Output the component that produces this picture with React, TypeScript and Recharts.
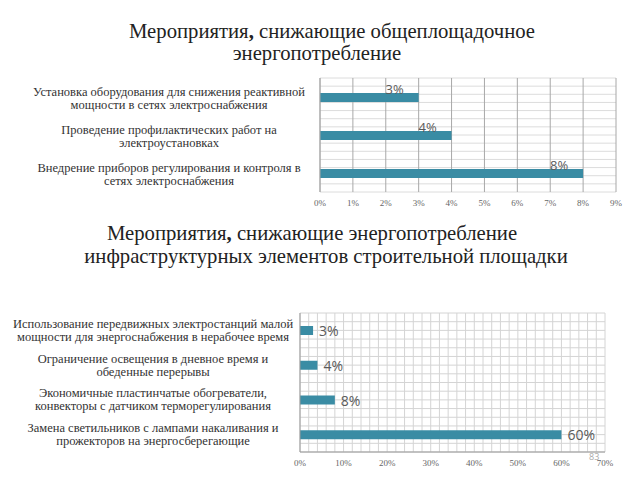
import React from "react";
import { BarChart, Bar, XAxis, YAxis, CartesianGrid, LabelList } from "recharts";

const siteCategories = [
  "Установка оборудования для снижения реактивной\nмощности в сетях электроснабжения",
  "Проведение профилактических работ на\nэлектроустановках",
  "Внедрение приборов регулирования и контроля в\nсетях электроснабжения",
];
const siteValues = [3, 4, 8];
const siteTicks = [0, 1, 2, 3, 4, 5, 6, 7, 8, 9];

const infraCategories = [
  "Использование передвижных электростанций малой\nмощности для энергоснабжения в нерабочее время",
  "Ограничение освещения в дневное время и\nобеденные перерывы",
  "Экономичные пластинчатые обогреватели,\nконвекторы с датчиком терморегулирования",
  "Замена светильников с лампами накаливания и\nпрожекторов на энергосберегающие",
];
const infraValues = [3, 4, 8, 60];
const infraTicks = [0, 10, 20, 30, 40, 50, 60, 70];

const siteData = siteCategories.map((name, i) => ({ name, value: siteValues[i] }));
const infraData = infraCategories.map((name, i) => ({ name, value: infraValues[i] }));

const BAR = "#3a8ca4";
const SERIF = "Liberation Serif, DejaVu Serif, serif";
const SANS = "Open Sans, DejaVu Sans, sans-serif";

function CategoryTick(props: any) {
  const { x, y, payload, shift, top, gap } = props;
  const lines = String(payload.value).split("\n");
  const cx = x - shift;
  return (
    <text x={cx} y={y} textAnchor="middle" fontFamily={SERIF} fontSize={12.5} fill="#333">
      {lines.map((l, i) => (
        <tspan key={i} x={cx} y={y + top + i * gap}>
          {l}
        </tspan>
      ))}
    </text>
  );
}

const pct = (v: number) => `${v}%`;

function TopLabel(props: any) {
  const { x, y, width, value } = props;
  return (
    <text x={x + width - 24} y={y + 1} textAnchor="middle" fontFamily={SANS} fontSize={13} fill="#5a5a5a">
      {pct(value)}
    </text>
  );
}

function SideLabel(props: any) {
  const { x, y, width, height, value } = props;
  return (
    <text x={x + width + 6} y={y + height / 2} dominantBaseline="central" fontFamily={SANS} fontSize={14} fill="#5a5a5a">
      {pct(value)}
    </text>
  );
}

function TitleLine({ text, cx, cy }: { text: React.ReactNode; cx: number; cy: number }) {
  return (
    <div
      style={{
        position: "absolute",
        left: cx - 320,
        top: cy - 12,
        width: 640,
        textAlign: "center",
        fontFamily: SERIF,
        fontSize: 20.7,
        lineHeight: "24px",
        color: "#222",
        whiteSpace: "nowrap",
      }}
    >
      {text}
    </div>
  );
}

export default function App() {
  return (
    <div style={{ position: "absolute", left: 0, top: 0, width: 640, height: 480, background: "#fff", overflow: "hidden" }}>
      <TitleLine cx={332} cy={31} text={<>Мероприятия<b>,</b> снижающие общеплощадочное</>} />
      <TitleLine cx={317} cy={53} text="энергопотребление" />

      <div style={{ position: "absolute", left: 0, top: 60 }}>
        <BarChart width={640} height={160} data={siteData} layout="vertical" margin={{ top: 18, right: 24, left: 0, bottom: 8 }}>
          <CartesianGrid
            vertical={false}
            stroke="#dcdcdc"
            horizontalCoordinatesGenerator={({ offset }: any) =>
              Array.from({ length: 15 }, (_, i) => offset.top + (i * offset.height) / 14)
            }
          />
          <CartesianGrid horizontal={false} stroke="#a8a8a8" />
          <XAxis
            type="number"
            domain={[0, 9]}
            ticks={siteTicks}
            tickFormatter={pct}
            axisLine={false}
            tickLine={false}
            height={20}
            tick={{ fontSize: 9, fill: "#666", fontFamily: SERIF }}
          />
          <YAxis
            type="category"
            dataKey="name"
            width={320}
            interval={0}
            axisLine={{ stroke: "#a8a8a8" }}
            tickLine={false}
            tick={<CategoryTick shift={143} top={-1.5} gap={13} />}
          />
          <Bar dataKey="value" fill={BAR} barSize={9} isAnimationActive={false}>
            <LabelList dataKey="value" content={<TopLabel />} />
          </Bar>
        </BarChart>
      </div>

      <TitleLine cx={312} cy={233} text={<>Мероприятия<b>,</b> снижающие энергопотребление</>} />
      <TitleLine cx={326} cy={256} text="инфраструктурных элементов строительной площадки" />

      <div style={{ position: "absolute", left: 0, top: 290 }}>
        <BarChart width={640} height={185} data={infraData} layout="vertical" margin={{ top: 23, right: 35, left: 0, bottom: 3 }}>
          <CartesianGrid
            stroke="#d4d4d4"
            horizontalCoordinatesGenerator={({ offset }: any) =>
              Array.from({ length: 17 }, (_, i) => offset.top + (i * offset.height) / 16)
            }
            verticalCoordinatesGenerator={({ offset }: any) =>
              Array.from({ length: 36 }, (_, i) => offset.left + (i * offset.width) / 35)
            }
          />
          <XAxis
            type="number"
            domain={[0, 70]}
            ticks={infraTicks}
            tickFormatter={pct}
            axisLine={{ stroke: "#999" }}
            tickLine={false}
            height={20}
            tick={{ fontSize: 9, fill: "#666", fontFamily: SERIF }}
          />
          <YAxis
            type="category"
            dataKey="name"
            width={300}
            interval={0}
            axisLine={{ stroke: "#999" }}
            tickLine={false}
            tick={<CategoryTick shift={139} top={-2.5} gap={13} />}
          />
          <Bar dataKey="value" fill={BAR} barSize={9} isAnimationActive={false}>
            <LabelList dataKey="value" content={<SideLabel />} />
          </Bar>
        </BarChart>
      </div>

      <div style={{ position: "absolute", left: 589, top: 450, fontFamily: SANS, fontSize: 9, color: "#aaa" }}>83</div>
    </div>
  );
}
